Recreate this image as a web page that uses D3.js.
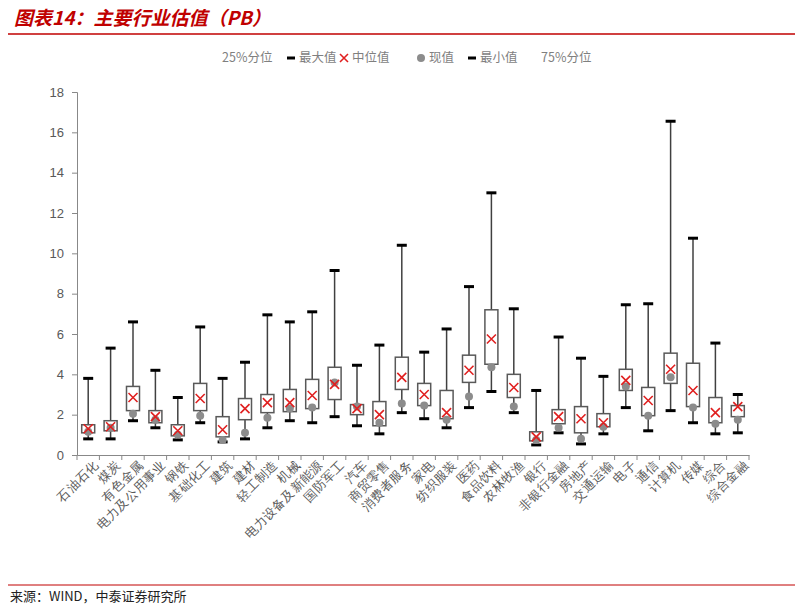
<!DOCTYPE html>
<html><head><meta charset="utf-8">
<script src="https://cdn.jsdelivr.net/npm/d3@7"></script>
<style>body{margin:0;background:#fff;font-family:"Noto Sans CJK SC",sans-serif;}</style>
</head><body><svg id="chart" width="803" height="609"></svg>
<script>
const categories = ["石油石化","煤炭","有色金属","电力及公用事业","钢铁","基础化工","建筑","建材","轻工制造","机械","电力设备及新能源","国防军工","汽车","商贸零售","消费者服务","家电","纺织服装","医药","食品饮料","农林牧渔","银行","非银行金融","房地产","交通运输","电子","通信","计算机","传媒","综合","综合金融"];
const maxVals =  [3.8,5.3,6.6,4.2,2.85,6.35,3.8,4.6,6.95,6.6,7.1,9.15,4.45,5.45,10.4,5.1,6.25,8.35,13.0,7.25,3.2,5.85,4.8,3.9,7.45,7.5,16.55,10.75,5.55,3.0];
const q3Vals =   [1.5,1.7,3.4,2.2,1.5,3.55,1.9,2.8,3.0,3.25,3.75,4.35,2.5,2.65,4.85,3.55,3.2,4.95,7.2,4.0,1.15,2.25,2.4,2.05,4.25,3.35,5.05,4.55,2.85,2.45];
const medVals =  [1.3,1.4,2.85,1.9,1.2,2.8,1.25,2.3,2.6,2.6,2.95,3.5,2.3,2.0,3.85,3.0,2.1,4.2,5.75,3.35,0.9,1.9,1.8,1.6,3.7,2.7,4.25,3.2,2.1,2.4];
const q1Vals =   [1.1,1.2,2.2,1.6,0.95,2.2,0.9,1.75,2.1,2.15,2.3,2.75,2.0,1.45,3.25,2.45,1.8,3.6,4.5,2.85,0.7,1.55,1.1,1.4,3.2,1.95,3.55,2.4,1.6,1.9];
const minVals =  [0.8,0.8,1.7,1.35,0.75,1.6,0.65,0.8,1.35,1.7,1.6,1.9,1.45,1.05,2.1,1.8,1.35,2.35,3.15,2.1,0.5,1.1,0.55,1.05,2.35,1.2,2.2,1.6,1.05,1.1];
const curVals =  [1.15,1.35,2.05,1.75,1.0,1.95,0.75,1.1,1.85,2.3,2.35,3.6,2.4,1.6,2.55,2.45,1.75,2.9,4.35,2.4,0.75,1.35,0.8,1.4,3.4,1.95,3.85,2.35,1.55,1.75];
const yTicks = [0,2,4,6,8,10,12,14,16,18];

const svg = d3.select("#chart");
const red = "#c00000";

// title + rules
svg.append("text").attr("x",14).attr("y",25).attr("fill",red)
  .attr("font-size",19).attr("font-weight","bold").attr("font-style","italic")
  .text("图表14：主要行业估值（PB）");
svg.append("line").attr("x1",8).attr("x2",795).attr("y1",34).attr("y2",34).attr("stroke",red).attr("stroke-width",1.5);
svg.append("line").attr("x1",8).attr("x2",795).attr("y1",585).attr("y2",585).attr("stroke",red).attr("stroke-width",1);
svg.append("text").attr("x",10).attr("y",601).attr("font-size",13).attr("fill","#222")
  .text("来源：WIND，中泰证券研究所");

const x = d3.scaleBand().domain(categories).range([77,749]);
const y = d3.scaleLinear().domain([0,18]).range([455,92]);

// axes
const yAxis = svg.append("g").attr("transform","translate(77,0)")
  .call(d3.axisLeft(y).tickValues(yTicks).tickSize(5).tickPadding(8));
yAxis.select(".domain").attr("stroke","#888");
yAxis.selectAll(".tick line").attr("stroke","#888");
yAxis.selectAll("text").attr("font-size",13).attr("fill","#595959").attr("font-family","Liberation Sans");

const xAxis = svg.append("g").attr("transform","translate(0,455)")
  .call(d3.axisBottom(x).tickSize(0).tickPadding(6));
xAxis.select(".domain").attr("stroke","#888");
xAxis.selectAll(".tick text").attr("font-size",12.5).attr("fill","#595959")
  .attr("text-anchor","end").attr("dy","0.3em")
  .attr("transform","translate(4,4) rotate(-45)");
// boundary ticks
xAxis.selectAll(".bt").data(categories.concat([""])).join("line")
  .attr("x1",(d,i)=>77+i*x.step()).attr("x2",(d,i)=>77+i*x.step())
  .attr("y1",0).attr("y2",5).attr("stroke","#888");

const idx = d3.range(categories.length);
const cx = i => x(categories[i]) + x.bandwidth()/2;
const g = svg.append("g");
// whiskers
g.selectAll(".wh").data(idx).join("line")
  .attr("x1",cx).attr("x2",cx).attr("y1",i=>y(maxVals[i])).attr("y2",i=>y(minVals[i]))
  .attr("stroke","#404040").attr("stroke-width",1.5);
// box
g.selectAll(".bx").data(idx).join("rect")
  .attr("x",i=>cx(i)-6.5).attr("width",13)
  .attr("y",i=>y(q3Vals[i])).attr("height",i=>y(q1Vals[i])-y(q3Vals[i]))
  .attr("fill","#fff").attr("stroke","#595959").attr("stroke-width",1.5);
// caps
[maxVals,minVals].forEach(arr=>{
  g.selectAll(null).data(idx).join("line")
    .attr("x1",i=>cx(i)-5).attr("x2",i=>cx(i)+5)
    .attr("y1",i=>y(arr[i])).attr("y2",i=>y(arr[i]))
    .attr("stroke","#000").attr("stroke-width",3);
});
// current
g.selectAll(".cur").data(idx).join("circle")
  .attr("cx",cx).attr("cy",i=>y(curVals[i])).attr("r",4).attr("fill","#8c8c8c");
// median x
const cross = (sel,s)=>{
  sel.append("path").attr("d",`M${-s},${-s}L${s},${s}M${-s},${s}L${s},${-s}`)
    .attr("stroke","#e02020").attr("stroke-width",1.6).attr("fill","none");
};
g.selectAll(".med").data(idx).join("g")
  .attr("transform",i=>`translate(${cx(i)},${y(medVals[i])})`)
  .each(function(){cross(d3.select(this),4.5);});

// legend
const lg = svg.append("g").attr("font-size",12.5).attr("fill","#7f7f7f");
lg.append("text").attr("x",222).attr("y",62).text("25%分位");
lg.append("line").attr("x1",287).attr("x2",295).attr("y1",58).attr("y2",58).attr("stroke","#000").attr("stroke-width",3);
lg.append("text").attr("x",299).attr("y",62).text("最大值");
cross(lg.append("g").attr("transform","translate(344,58)"),4);
lg.append("text").attr("x",352).attr("y",62).text("中位值");
lg.append("circle").attr("cx",421).attr("cy",58).attr("r",4).attr("fill","#8c8c8c");
lg.append("text").attr("x",429).attr("y",62).text("现值");
lg.append("line").attr("x1",468).attr("x2",476).attr("y1",58).attr("y2",58).attr("stroke","#000").attr("stroke-width",3);
lg.append("text").attr("x",480).attr("y",62).text("最小值");
lg.append("text").attr("x",541).attr("y",62).text("75%分位");
</script></body></html>
